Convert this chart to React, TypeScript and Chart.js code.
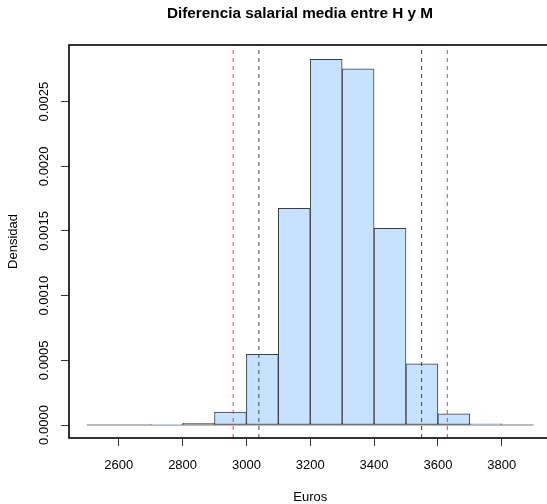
import React, { useEffect, useRef } from "react";
import { Chart, registerables } from "chart.js";
Chart.register(...registerables);

// ---- data ----
const binStarts = [2500, 2600, 2700, 2800, 2900, 3000, 3100, 3200, 3300, 3400, 3500, 3600, 3700, 3800];
const binWidth = 100;
const densities = [0, 0, 0.000003, 0.000012, 0.0001, 0.000547, 0.001676, 0.002828, 0.002753, 0.001521, 0.000472, 0.000087, 0.00001, 0];
const xTicks = [2600, 2800, 3000, 3200, 3400, 3600, 3800];
const yTicks = [0, 0.0005, 0.001, 0.0015, 0.002, 0.0025];
const yTickLabels = ["0.0000", "0.0005", "0.0010", "0.0015", "0.0020", "0.0025"];
const outerLimits = [2958.5, 3629.5]; // red dashed
const innerLimits = [3039, 3549]; // dark dashed
const titleText = "Diferencia salarial media entre H y M";
const xLabel = "Euros";
const yLabel = "Densidad";

const X_MIN = 2444;
const X_MAX = 3956;
const Y_MIN = -0.0001005;
const Y_MAX = 0.002938;

const FONT = '"Liberation Sans", Arial, Helvetica, sans-serif';

export default function App() {
  const ref = useRef<HTMLCanvasElement | null>(null);

  useEffect(() => {
    const canvas = ref.current;
    if (!canvas) return;

    const vline = (x: number, color: string, order: number) => ({
      type: "line" as const,
      data: [
        { x, y: Y_MIN },
        { x, y: Y_MAX },
      ],
      borderColor: color,
      borderWidth: 1,
      borderDash: [4, 4],
      pointRadius: 0,
      fill: false,
      order,
    });

    const decor = {
      id: "decor",
      afterDatasetsDraw(chart: any) {
        const { ctx, chartArea } = chart;
        ctx.save();
        ctx.strokeStyle = "#000";
        ctx.lineWidth = 1.6;
        ctx.strokeRect(chartArea.left, chartArea.top, chartArea.right - chartArea.left, chartArea.bottom - chartArea.top);
        ctx.restore();
      },
      afterDraw(chart: any) {
        const { ctx, chartArea, scales } = chart;
        const xs = scales.x;
        const ys = scales.y;
        ctx.save();
        ctx.fillStyle = "#000";
        // title
        ctx.font = `bold 15.3px ${FONT}`;
        ctx.textAlign = "center";
        ctx.textBaseline = "alphabetic";
        ctx.fillText(titleText, 300, 17.5);
        // x tick labels
        ctx.font = `13px ${FONT}`;
        xTicks.forEach((v) => {
          ctx.fillText(String(v), xs.getPixelForValue(v), 469);
        });
        // x label
        ctx.fillText(xLabel, (chartArea.left + chartArea.right) / 2, 501);
        // y tick labels rotated
        yTicks.forEach((v, i) => {
          const py = ys.getPixelForValue(v);
          ctx.save();
          ctx.translate(48, py);
          ctx.rotate(-Math.PI / 2);
          ctx.fillText(yTickLabels[i], 0, 0);
          ctx.restore();
        });
        // y label
        ctx.save();
        ctx.translate(17, (chartArea.top + chartArea.bottom) / 2);
        ctx.rotate(-Math.PI / 2);
        ctx.fillText(yLabel, 0, 0);
        ctx.restore();
        ctx.restore();
      },
    };

    const chart = new Chart(canvas, {
      type: "bar",
      data: {
        datasets: [
          {
            type: "line" as const,
            data: [
              { x: binStarts[0], y: 0 },
              { x: binStarts[binStarts.length - 1] + binWidth, y: 0 },
            ],
            borderColor: "#777",
            borderWidth: 1,
            pointRadius: 0,
            fill: false,
            order: 3,
          } as any,
          {
            type: "bar" as const,
            data: binStarts.map((s, i) => ({ x: s + binWidth / 2, y: densities[i] })),
            backgroundColor: "#C6E2FF",
            borderColor: "#3a3f45",
            borderWidth: 1,
            borderSkipped: false,
            barPercentage: 1,
            categoryPercentage: 1,
            order: 2,
          } as any,
          vline(outerLimits[0], "#e0404c", 1),
          vline(outerLimits[1], "#e0404c", 1),
          vline(innerLimits[0], "#444", 1),
          vline(innerLimits[1], "#444", 1),
        ],
      },
      options: {
        responsive: false,
        animation: false,
        devicePixelRatio: 1,
        layout: { padding: { left: 0, top: 45, right: 8.5, bottom: 0 } },
        plugins: {
          legend: { display: false },
          tooltip: { enabled: false },
          title: { display: false },
        },
        scales: {
          x: {
            type: "linear",
            min: X_MIN,
            max: X_MAX,
            offset: false,
            grid: {
              display: true,
              offset: false,
              drawOnChartArea: false,
              drawTicks: true,
              tickLength: 8,
              tickColor: "#333",
              lineWidth: 1,
            },
            border: { display: false },
            ticks: { display: false },
            afterBuildTicks: (scale: any) => {
              scale.ticks = xTicks.map((v) => ({ value: v }));
            },
            afterFit: (scale: any) => {
              scale.height = 66;
            },
          },
          y: {
            type: "linear",
            min: Y_MIN,
            max: Y_MAX,
            grid: {
              display: true,
              drawOnChartArea: false,
              drawTicks: true,
              tickLength: 8,
              tickColor: "#333",
              lineWidth: 1,
            },
            border: { display: false },
            ticks: { display: false },
            afterBuildTicks: (scale: any) => {
              scale.ticks = yTicks.map((v) => ({ value: v }));
            },
            afterFit: (scale: any) => {
              scale.width = 69;
            },
          },
        },
      } as any,
      plugins: [decor],
    });

    return () => chart.destroy();
  }, []);

  return (
    <div
      style={{
        position: "fixed",
        left: 0,
        top: 0,
        width: 547,
        height: 504,
        overflow: "hidden",
        background: "#fff",
      }}
    >
      <canvas ref={ref} width={560} height={504} style={{ width: 560, height: 504, display: "block" }} />
    </div>
  );
}
